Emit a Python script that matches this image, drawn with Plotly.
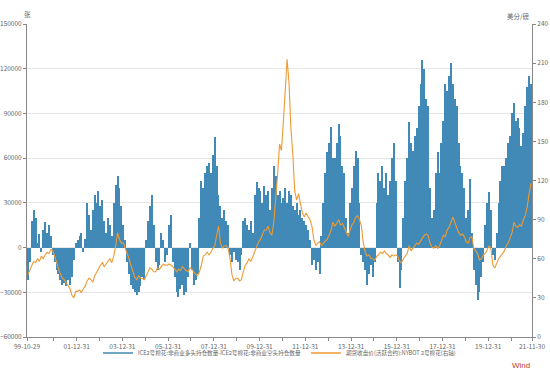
import pandas as pd
import plotly.graph_objects as go

# ---- data (monthly estimates) ----
years = list(range(1999, 2022))
# net non-commercial position (contracts, thousands)
net_k = {
    1999: [-22, -10],
    2000: [18, 25, 20, 3, 9, -3, 12, 17, 10, 15, 8, -5],
    2001: [-10, -15, -18, -22, -25, -24, -26, -22, -25, -20, -8, 3],
    2002: [5, 8, 10, -3, 6, 30, 22, 12, 25, 35, 30, 38],
    2003: [28, 32, 18, 10, 20, 15, 8, 30, 42, 48, 40, 28],
    2004: [15, 5, -10, -18, -25, -28, -30, -32, -30, -26, -20, -22],
    2005: [5, 18, 28, 35, 15, -10, -15, -12, 10, 5, -10, -5],
    2006: [15, 22, -10, -20, -30, -33, -28, -25, -32, -30, -20, 3],
    2007: [-15, -25, -22, -18, 20, 45, 40, 50, 55, 57, 50, 62],
    2008: [74, 55, 35, 28, 20, 25, 18, 15, -5, -10, -3, -8],
    2009: [-10, -15, -5, 18, 20, 15, 12, 18, 10, 35, 44, 40],
    2010: [38, 30, 41, 35, 38, 25, 40, 55, 48, 35, 38, 30],
    2011: [33, 40, 30, 38, 35, 28, 25, 30, 22, 25, 20, 18],
    2012: [15, 12, 5, -12, -8, -15, -10, -18, 8, 30, 50, 64],
    2013: [70, 81, 60, 60, 70, 83, 75, 55, 50, 20, 10, 30],
    2014: [40, 55, 65, 60, 30, -5, -10, -15, -25, -18, -12, -20],
    2015: [-10, 30, 50, 45, 55, 40, 50, 35, 45, 60, 70, 45],
    2016: [-10, -27, -15, 20, 45, 60, 84, 70, 65, 75, 80, 95],
    2017: [110, 126, 120, 100, 95, 40, 20, 25, 50, 64, 50, 70],
    2018: [85, 110, 105, 115, 124, 110, 100, 95, 70, 55, 50, 40],
    2019: [20, 25, 46, 10, -15, -25, -35, -30, -20, -10, 15, 30],
    2020: [37, 25, -5, -8, 10, 30, 45, 55, 55, 60, 70, 75],
    2021: [90, 97, 85, 87, 80, 68, 77, 95, 108, 115, 110],
}
# NYBOT No.2 cotton, active contract close (US cents / lb)
price = {
    1999: [48, 52],
    2000: [55, 58, 57, 60, 58, 62, 60, 63, 65, 64, 67, 66],
    2001: [62, 57, 52, 48, 45, 44, 42, 40, 37, 32, 30, 35],
    2002: [35, 36, 34, 37, 39, 43, 45, 44, 42, 47, 50, 53],
    2003: [55, 57, 54, 56, 58, 60, 57, 62, 70, 80, 75, 72],
    2004: [72, 68, 65, 60, 55, 50, 46, 44, 47, 45, 45, 44],
    2005: [47, 50, 53, 52, 50, 50, 53, 52, 54, 56, 55, 55],
    2006: [56, 55, 54, 52, 50, 52, 51, 54, 52, 51, 50, 53],
    2007: [52, 50, 48, 47, 50, 55, 62, 63, 65, 63, 65, 68],
    2008: [70, 78, 85, 72, 68, 70, 70, 68, 60, 48, 43, 45],
    2009: [45, 43, 44, 50, 55, 57, 60, 58, 62, 65, 70, 73],
    2010: [75, 78, 82, 82, 85, 80, 78, 88, 105, 125, 148, 143],
    2011: [165, 195, 213, 195, 160, 140, 112, 105, 110, 102, 95, 92],
    2012: [95, 92, 90, 85, 75, 70, 72, 73, 70, 72, 74, 75],
    2013: [78, 82, 88, 85, 87, 90, 86, 87, 84, 80, 77, 82],
    2014: [86, 88, 92, 93, 90, 85, 72, 65, 62, 63, 60, 60],
    2015: [59, 62, 63, 65, 64, 66, 64, 63, 61, 63, 62, 63],
    2016: [62, 58, 57, 60, 62, 64, 70, 66, 68, 70, 72, 71],
    2017: [74, 76, 78, 79, 78, 72, 69, 68, 70, 68, 70, 74],
    2018: [78, 77, 82, 84, 88, 92, 88, 84, 80, 78, 79, 77],
    2019: [73, 72, 76, 77, 68, 66, 64, 59, 60, 63, 64, 67],
    2020: [70, 67, 55, 53, 57, 60, 62, 64, 66, 70, 72, 76],
    2021: [80, 88, 85, 84, 86, 85, 90, 93, 100, 110, 118],
}
tick_dates = ["1999-10-29", "2001-12-31", "2003-12-31", "2005-12-31", "2007-12-31",
              "2009-12-31", "2011-12-31", "2013-12-31", "2015-12-31", "2017-12-31",
              "2019-12-31", "2021-11-30"]
tick_text = ["99-10-29", "01-12-31", "03-12-31", "05-12-31", "07-12-31", "09-12-31",
             "11-12-31", "13-12-31", "15-12-31", "17-12-31", "19-12-31", "21-11-30"]
minor_dates = ["2000-12-31", "2002-12-31", "2004-12-31", "2006-12-31", "2008-12-31",
               "2010-12-31", "2012-12-31", "2014-12-31", "2016-12-31", "2018-12-31",
               "2020-12-31"]

name_bar = "ICE2号棉花:非商业多头持仓数量-ICE2号棉花:非商业空头持仓数量"
name_line = "期货收盘价(活跃合约):NYBOT 2号棉花(右轴)"

# ---- build series ----
dates, net, px = [], [], []
for y in years:
    vals = net_k[y]
    start_m = 13 - len(vals) if y == 1999 else 1
    for i, v in enumerate(vals):
        m = start_m + i
        dates.append(pd.Timestamp(year=y, month=m, day=15))
        net.append(v * 1000)
    px.extend(price[y])

FONT = "Noto Sans CJK SC"
GRAY = "#666666"
BAR_C = "#4189b6"
LINE_C = "#ef9a33"

fig = go.Figure()
fig.add_trace(go.Bar(
    x=dates, y=net, name=name_bar, showlegend=False,
    marker=dict(color=BAR_C, line=dict(width=0)),
    width=18 * 24 * 3600 * 1000,
    yaxis="y",
))
fig.add_trace(go.Scatter(
    x=dates, y=px, name=name_line, mode="lines", showlegend=False,
    line=dict(color=LINE_C, width=1.1),
    yaxis="y2",
))
# legend entries (line symbols, as in the reference)
fig.add_trace(go.Scatter(x=[None], y=[None], name=name_bar, mode="lines",
                         line=dict(color=BAR_C, width=1.5), yaxis="y"))
fig.add_trace(go.Scatter(x=[None], y=[None], name=name_line, mode="lines",
                         line=dict(color=LINE_C, width=1.5), yaxis="y2"))

fig.update_layout(
    width=550, height=379,
    margin=dict(l=27, r=18, t=24, b=41),
    paper_bgcolor="white", plot_bgcolor="white",
    font=dict(family=FONT, size=6.5, color=GRAY),
    bargap=0,
    showlegend=True,
    legend=dict(orientation="h", x=0.5, xanchor="center", y=-0.048, yanchor="middle",
                font=dict(size=5.6, color=GRAY), itemwidth=30, tracegroupgap=0,
                bgcolor="rgba(0,0,0,0)"),
    xaxis=dict(
        type="date", automargin=False,
        range=["1999-10-29", "2021-11-30"],
        tickmode="array", tickvals=tick_dates, ticktext=tick_text,
        showgrid=False, showline=True, linecolor="#888888", linewidth=1,
        ticks="outside", ticklen=3, tickcolor="#888888",
        minor=dict(tickmode="array", tickvals=minor_dates, ticks="outside",
                   ticklen=3, tickcolor="#888888", showgrid=False),
        tickfont=dict(size=6.5, color=GRAY),
        zeroline=False,
    ),
    yaxis=dict(
        automargin=False,
        range=[-60000, 150000], dtick=30000, tick0=0, tickformat="d",
        showgrid=True, gridcolor="#e6e6e6", gridwidth=1,
        showline=True, linecolor="#888888", linewidth=1,
        ticks="outside", ticklen=3, tickcolor="#888888",
        zeroline=False, tickfont=dict(size=6.5, color=GRAY),
    ),
    yaxis2=dict(
        automargin=False,
        range=[0, 240], dtick=30, tick0=0, overlaying="y", side="right",
        showgrid=False, showline=True, linecolor="#888888", linewidth=1,
        ticks="outside", ticklen=3, tickcolor="#888888",
        zeroline=False, tickfont=dict(size=6.5, color=GRAY),
    ),
    annotations=[
        dict(text="张", xref="paper", yref="paper", x=0, y=1.0, yshift=10,
             xanchor="center", yanchor="middle", showarrow=False,
             font=dict(size=6.5, color=GRAY)),
        dict(text="美分/磅", xref="paper", yref="paper", x=1.0, y=1.0, yshift=8,
             xanchor="right", yanchor="middle", showarrow=False,
             font=dict(size=6.5, color=GRAY)),
        dict(text="Wind", xref="paper", yref="paper", x=1.0, y=-0.092,
             xanchor="right", yanchor="middle", showarrow=False,
             font=dict(size=8, color="#c0392b", family="Liberation Sans")),
    ],
)

# remove the default 8px page margin so the figure sits at the window origin
fig.write_html("out.html", config={"displayModeBar": False},
               post_script="document.body.style.margin='0';document.body.style.overflow='hidden';")
